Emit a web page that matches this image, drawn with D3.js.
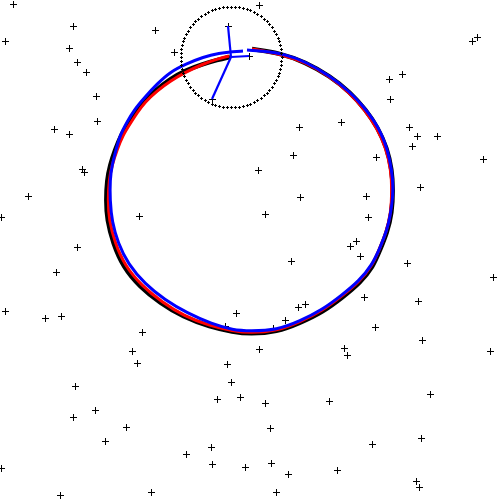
<!DOCTYPE html>
<html>
<head>
<meta charset="utf-8">
<script src="https://cdn.jsdelivr.net/npm/d3@7"></script>
<style>
html,body{margin:0;padding:0;background:#fff;}
svg{display:block;}
</style>
</head>
<body>
<svg id="chart" width="500" height="500"></svg>
<script>
// ---- data (world units, y up) ----
const landmarks = [
[-23.7,24.6],[0.9,24.5],[-17.7,22.4],[-9.5,22.0],[-2.2,22.4],[-24.5,20.9],[-18.1,20.2],[-7.6,19.8],
[22.7,21.3],[22.2,20.9],[-17.3,18.8],[-16.4,17.8],[-0.1,19.4],[15.2,17.6],[13.9,17.1],[-15.4,15.4],
[14.0,15.1],[-3.8,15.1],[-15.3,12.9],[-19.6,12.1],[-18.1,11.6],[4.9,12.3],[9.1,12.8],[15.9,12.3],
[16.7,11.4],[18.7,11.4],[16.2,10.4],[4.3,9.5],[12.6,9.3],[23.3,9.1],[-16.8,8.1],[-16.6,7.8],
[0.8,8.0],[17.0,6.3],[-22.2,5.4],[5.0,5.3],[11.6,5.4],[-24.9,3.3],[-11.1,3.4],[1.5,3.6],
[11.8,3.3],[10.6,0.9],[10.0,0.4],[-17.3,0.3],[11.0,-0.6],[4.1,-1.1],[15.7,-1.3],[-19.4,-2.2],
[24.3,-2.7],[11.4,-4.7],[16.8,-5.1],[-24.5,-6.1],[-20.5,-6.8],[-18.9,-6.6],[-1.4,-6.3],[5.5,-5.4],
[4.8,-5.7],[3.5,-7.0],[2.3,-7.8],[-2.5,-7.6],[12.5,-7.7],[-10.8,-8.2],[17.2,-9.0],[-11.8,-10.1],
[0.9,-9.9],[9.4,-9.8],[9.7,-10.5],[24.0,-10.1],[-11.3,-11.3],[-2.3,-11.4],[-1.9,-13.2],[-17.5,-13.6],
[-3.3,-14.9],[-1.0,-14.7],[1.5,-15.3],[7.9,-15.1],[18.0,-14.4],[-15.5,-16.0],[-17.7,-16.7],[2.0,-17.8],
[-12.4,-17.7],[17.1,-18.8],[-14.5,-19.1],[-3.9,-19.7],[12.2,-19.4],[-6.4,-20.4],[-3.8,-21.4],[-0.5,-21.7],
[2.1,-21.3],[3.8,-22.4],[8.7,-22.0],[-24.9,-21.8],[16.6,-23.1],[16.9,-23.7],[-9.9,-24.2],[2.6,-24.2],
[-19.0,-24.5]
];

const truePath = [
[0.2,20.1],[3.0,19.7],[5.5,18.8],[8.0,17.4],[10.0,15.8],[11.6,14.0],[12.8,12.2],[13.7,10.2],[14.2,8.0],
[14.3,6.0],[14.2,3.7],[13.7,1.7],[13.0,0.0],[12.3,-1.7],[11.0,-3.3],[9.3,-4.7],[7.3,-6.2],[5.0,-7.3],
[2.7,-8.2],[0.0,-8.4],[-1.7,-8.2],[-4.0,-7.7],[-6.7,-6.7],[-9.0,-5.3],[-11.0,-3.7],[-12.7,-1.7],
[-13.7,0.7],[-14.3,3.0],[-14.4,5.0],[-14.3,7.0],[-14.0,8.5],[-13.5,10.0],[-12.9,11.5],[-12.2,12.6],
[-11.5,13.7],[-10.7,14.8],[-9.4,16.0],[-8.0,17.1],[-6.4,18.0],[-4.7,18.6],[-3.3,19.0],[-2.0,19.3]
];

const odomPath = [
[0.2,20.1],[3.0,19.6],[5.5,18.8],[7.9,17.4],[9.9,15.8],[11.5,14.0],[12.7,12.2],[13.6,10.2],[14.1,8.0],
[14.2,6.0],[14.1,3.7],[13.6,1.7],[12.9,0.0],[12.2,-1.6],[10.9,-3.2],[9.2,-4.6],[7.2,-6.1],[5.0,-7.2],
[2.7,-8.1],[0.0,-8.3],[-1.7,-8.1],[-4.0,-7.6],[-6.6,-6.6],[-8.8,-5.2],[-10.8,-3.6],[-12.5,-1.6],
[-13.5,0.7],[-14.1,3.0],[-14.2,5.0],[-14.1,7.0],[-13.8,8.5],[-13.3,10.0],[-12.7,11.5],[-12.0,12.6],
[-11.3,13.7],[-10.5,14.8],[-9.3,15.9],[-8.0,16.9],[-6.4,17.8],[-4.7,18.6],[-3.3,19.1],[-2.1,19.4]
];

const estPath = [
[-0.3,20.0],[1.2,19.9],[3.5,19.6],[5.6,18.8],[8.0,17.4],[10.0,15.8],[11.2,14.5],[12.0,13.5],[12.8,12.3],
[13.5,10.8],[14.0,9.0],[14.3,7.0],[14.3,5.3],[14.0,3.3],[13.7,2.0],[13.0,0.2],[12.2,-1.5],[10.9,-3.1],
[9.2,-4.5],[7.2,-6.0],[5.0,-7.1],[2.7,-8.0],[0.0,-8.1],[-1.7,-8.0],[-3.8,-7.4],[-6.3,-6.3],[-8.5,-5.0],
[-10.5,-3.4],[-12.2,-1.4],[-13.2,0.7],[-13.8,2.8],[-14.0,5.0],[-14.0,7.0],[-13.8,8.5],[-13.4,10.0],
[-13.0,11.5],[-12.3,12.8],[-11.6,14.0],[-10.5,15.3],[-9.3,16.6],[-8.0,17.8],[-6.4,18.6],[-4.7,19.3],
[-3.0,19.7],[-2.0,19.8],[-0.7,19.9]
];

const robotPose = [-1.9, 19.3];
const sensorRange = 5.05;
const observed = [[-2.2,22.4],[-3.8,15.1],[-0.1,19.4]];
const rangeMarks = 80;

// ---- scales ----
const W = 500, H = 500;
const x = d3.scaleLinear().domain([-25,25]).range([0,W]);
const y = d3.scaleLinear().domain([-25,25]).range([H,0]);

const svg = d3.select("#chart");
svg.append("rect").attr("width",W).attr("height",H).attr("fill","#fff");

const line = d3.line().x(d=>x(d[0])).y(d=>y(d[1])).curve(d3.curveBasis);

// landmarks
const plus = s => `M${-s},0H${s}M0,${-s}V${s}`;
svg.append("g").selectAll("path").data(landmarks).join("path")
  .attr("transform", d=>`translate(${Math.round(x(d[0]))+0.5},${Math.round(y(d[1]))+0.5})`)
  .attr("d", plus(3.5)).attr("stroke","#000").attr("stroke-width",1).attr("fill","none");

// paths
svg.append("path").datum(truePath).attr("d",line).attr("fill","none")
  .attr("stroke","#000").attr("stroke-width",4.5).attr("stroke-linejoin","round");
svg.append("path").datum(odomPath).attr("d",line).attr("fill","none")
  .attr("stroke","#ff0000").attr("stroke-width",3).attr("stroke-linejoin","round");
svg.append("path").datum(estPath).attr("d",line).attr("fill","none")
  .attr("stroke","#0000ff").attr("stroke-width",3).attr("stroke-linejoin","round");

// observation lines
svg.append("g").selectAll("line").data(observed).join("line")
  .attr("x1",x(robotPose[0])).attr("y1",y(robotPose[1]))
  .attr("x2",d=>x(d[0])).attr("y2",d=>y(d[1]))
  .attr("stroke","#0000ff").attr("stroke-width",2.2);

// sensor range (dotted circle of small + markers)
const rangePts = d3.range(rangeMarks).map(i=>{
  const a = i/rangeMarks*2*Math.PI;
  return [robotPose[0]+sensorRange*Math.cos(a), robotPose[1]+sensorRange*Math.sin(a)];
});
svg.append("g").selectAll("path").data(rangePts).join("path")
  .attr("transform", d=>`translate(${Math.round(x(d[0]))+0.5},${Math.round(y(d[1]))+0.5})`)
  .attr("d", plus(1.5)).attr("stroke","#000").attr("stroke-width",1).attr("fill","none");
</script>
</body>
</html>
